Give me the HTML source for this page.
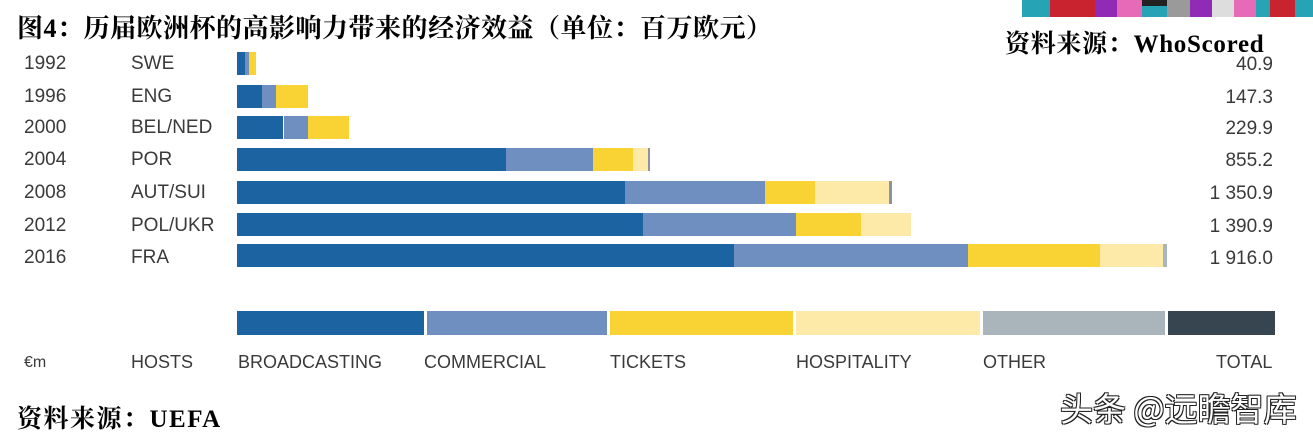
<!DOCTYPE html>
<html><head><meta charset="utf-8"><style>
body{margin:0;width:1313px;height:433px;background:#fff;position:relative;overflow:hidden;font-family:"Liberation Sans","Noto Sans CJK SC",sans-serif}
.a{position:absolute}
.t{position:absolute;font-size:19px;color:#3a3a3a;line-height:20px}
.b{position:absolute;height:23px}
.d{background:#1c63a1}.l{background:#6f8fc1}.y{background:#f9d333}.p{background:#fde9a8}.g{background:#8a959b}
.h{font-family:"Liberation Serif","Noto Serif CJK SC",serif;font-weight:bold;color:#000}
.v{position:absolute;font-size:19px;color:#3a3a3a;right:40px;text-align:right}
.lg{font-size:18px}
</style></head><body>
<div class="a h" style="left:17px;top:8px;font-size:26px;letter-spacing:0.5px">图4：历届欧洲杯的高影响力带来的经济效益（单位：百万欧元）</div>
<div class="a" style="left:1022px;top:0;width:291px;height:17px;background:#27a3b6"></div>
<div class="a" style="left:1050px;top:0;width:45px;height:17px;background:#c8232f"></div>
<div class="a" style="left:1095px;top:0;width:22px;height:17px;background:#8f2bb4"></div>
<div class="a" style="left:1117px;top:0;width:25px;height:17px;background:#e76ab8"></div>
<div class="a" style="left:1142px;top:0;width:25px;height:6px;background:#222"></div>
<div class="a" style="left:1167px;top:0;width:23px;height:17px;background:#9a9a9a"></div>
<div class="a" style="left:1190px;top:0;width:22px;height:17px;background:#8f2bb4"></div>
<div class="a" style="left:1212px;top:0;width:22px;height:17px;background:#ddd"></div>
<div class="a" style="left:1234px;top:0;width:22px;height:17px;background:#e76ab8"></div>
<div class="a" style="left:1270px;top:0;width:25px;height:17px;background:#c8232f"></div>
<div class="a h" style="left:1005px;top:24px;font-size:25px;letter-spacing:0.7px">资料来源：WhoScored</div>

<div class="t" style="left:24px;top:54px">1992</div><div class="t" style="left:131px;top:54px">SWE</div>
<div class="t" style="left:24px;top:87px">1996</div><div class="t" style="left:131px;top:87px">ENG</div>
<div class="t" style="left:24px;top:118px">2000</div><div class="t" style="left:131px;top:118px">BEL/NED</div>
<div class="t" style="left:24px;top:150px">2004</div><div class="t" style="left:131px;top:150px">POR</div>
<div class="t" style="left:24px;top:183px">2008</div><div class="t" style="left:131px;top:183px">AUT/SUI</div>
<div class="t" style="left:24px;top:216px">2012</div><div class="t" style="left:131px;top:216px">POL/UKR</div>
<div class="t" style="left:24px;top:248px">2016</div><div class="t" style="left:131px;top:248px">FRA</div>

<div class="v" style="top:54px">40.9</div>
<div class="v" style="top:87px">147.3</div>
<div class="v" style="top:118px">229.9</div>
<div class="v" style="top:150px">855.2</div>
<div class="v" style="top:183px">1 350.9</div>
<div class="v" style="top:216px">1 390.9</div>
<div class="v" style="top:248px">1 916.0</div>

<div class="b d" style="top:52px;left:237px;width:8px"></div><div class="b l" style="top:52px;left:245px;width:4px"></div><div class="b y" style="top:52px;left:249px;width:7px"></div>
<div class="b d" style="top:85px;left:237px;width:25px"></div><div class="b l" style="top:85px;left:262px;width:14px"></div><div class="b y" style="top:85px;left:276px;width:32px"></div>
<div class="b d" style="top:116px;left:237px;width:46px"></div><div class="b l" style="top:116px;left:284px;width:24px"></div><div class="b y" style="top:116px;left:308px;width:41px"></div>
<div class="b d" style="top:148px;left:237px;width:269px"></div><div class="b l" style="top:148px;left:506px;width:87px"></div><div class="b y" style="top:148px;left:593px;width:40px"></div><div class="b p" style="top:148px;left:633px;width:15px"></div><div class="b g" style="top:148px;left:648px;width:2px"></div>
<div class="b d" style="top:181px;left:237px;width:388px"></div><div class="b l" style="top:181px;left:625px;width:140px"></div><div class="b y" style="top:181px;left:765px;width:50px"></div><div class="b p" style="top:181px;left:815px;width:74px"></div><div class="b g" style="top:181px;left:889px;width:3px"></div>
<div class="b d" style="top:213px;left:237px;width:406px"></div><div class="b l" style="top:213px;left:643px;width:153px"></div><div class="b y" style="top:213px;left:796px;width:65px"></div><div class="b p" style="top:213px;left:861px;width:50px"></div>
<div class="b d" style="top:244px;left:237px;width:497px"></div><div class="b l" style="top:244px;left:734px;width:234px"></div><div class="b y" style="top:244px;left:968px;width:132px"></div><div class="b p" style="top:244px;left:1100px;width:63px"></div><div class="b g" style="top:244px;left:1163px;width:4px;background:#aab5bb"></div>

<div class="b d" style="top:311px;left:237px;width:187px;height:24px"></div>
<div class="b l" style="top:311px;left:427px;width:180px;height:24px"></div>
<div class="b y" style="top:311px;left:610px;width:183px;height:24px"></div>
<div class="b p" style="top:311px;left:796px;width:184px;height:24px"></div>
<div class="b" style="top:311px;left:983px;width:182px;height:24px;background:#aab5bb"></div>
<div class="b" style="top:311px;left:1168px;width:107px;height:24px;background:#36454f"></div>

<div class="t" style="left:24px;top:353px;font-size:16px">€m</div>
<div class="t lg" style="left:131px;top:352px">HOSTS</div>
<div class="t lg" style="left:238px;top:352px">BROADCASTING</div>
<div class="t lg" style="left:424px;top:352px">COMMERCIAL</div>
<div class="t lg" style="left:610px;top:352px">TICKETS</div>
<div class="t lg" style="left:796px;top:352px">HOSPITALITY</div>
<div class="t lg" style="left:983px;top:352px">OTHER</div>
<div class="t lg" style="left:1216px;top:352px">TOTAL</div>

<div class="a h" style="left:17px;top:399px;font-size:25px;letter-spacing:1.5px">资料来源：UEFA</div>
<div class="a" style="left:1060px;top:383px;font-size:33px;color:#fff;font-family:'Noto Sans CJK SC',sans-serif;text-shadow:1px 1px 0 #222,-1px -1px 0 #222,1px -1px 0 #222,-1px 1px 0 #222">头条 @远瞻智库</div>
</body></html>
